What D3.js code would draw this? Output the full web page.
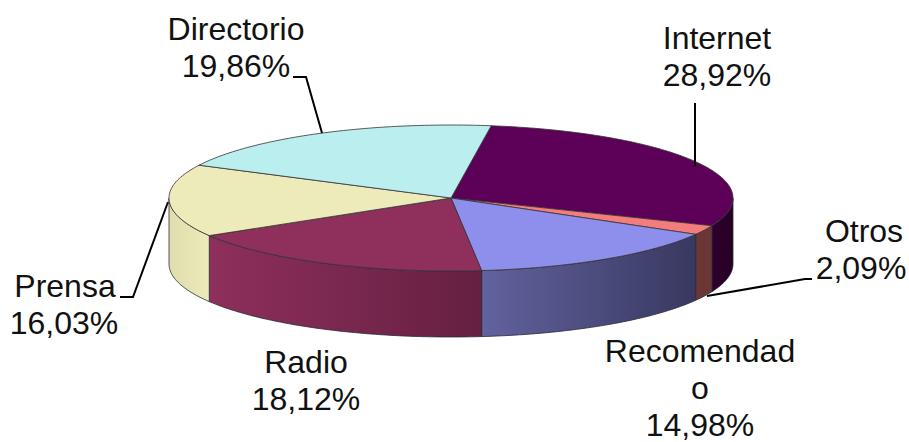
<!DOCTYPE html>
<html><head><meta charset="utf-8">
<script src="https://cdn.jsdelivr.net/npm/d3@7"></script>
<style>html,body{margin:0;background:#fff}svg{display:block}text{font-family:"Liberation Sans",Arial,sans-serif;font-size:32px;fill:#111;text-anchor:middle}</style>
</head><body><svg id="c" width="909" height="442"></svg>
<script>
const categories = ["Internet","Otros","Recomendado","Radio","Prensa","Directorio"];
const values = [28.92,2.09,14.98,18.12,16.03,19.86];
const topColors = ["#5c0058","#f47c7c","#8e8eec","#8e2f5c","#eeebbb","#bbeeee"];
const wallLeft  = ["#2e002c","#6c3636","#62629e","#8e2f5c","#e0ddac","#bbeeee"];
const wallRight = ["#260024","#6c3636","#383860","#652040","#eeebbb","#bbeeee"];
const labelLines = [["Internet"],["Otros"],["Recomendad","o"],["Radio"],["Prensa"],["Directorio"]];
const labelX = [717,864,700,306,65,236];
const labelY = [49,242,362,373,297,40];
const labelValueDx = [0,-3,0,0,-1,0];
const lineGap = 37;
const leaders = [
  [[695,103],[695,166]],
  [[812,279],[805,279],[707,296]],
  null,
  null,
  [[120,297],[133,297],[168,202]],
  [[293,77],[306,77],[322,133]]
];
const cx=451, cy=198, rx=282, ry=73, depth=66, startDeg=8.2;

const svg=d3.select("#c");
const defs=svg.append("defs");
const arcs=d3.pie().sort(null).value(d=>d)
  .startAngle(startDeg*Math.PI/180).endAngle((startDeg+360)*Math.PI/180)(values);
const px=d3.scaleLinear().domain([-1,1]).range([cx-rx,cx+rx]);
const py=d3.scaleLinear().domain([-1,1]).range([cy-ry,cy+ry]);
const P=(t,dy=0)=>[px(Math.sin(t)),py(-Math.cos(t))+dy];
const samples=(a,b,dy=0)=>{const n=Math.max(2,Math.ceil((b-a)/0.02));
  return d3.range(n+1).map(i=>P(a+(b-a)*i/n,dy));};
const line=d3.line();

// side walls
const W0=Math.PI/2, W1=3*Math.PI/2;
arcs.forEach((a,i)=>{
  const s=Math.max(a.startAngle,W0), e=Math.min(a.endAngle,W1);
  if(e<=s) return;
  const id="w"+i, x0=P(s)[0], x1=P(e)[0];
  const g=defs.append("linearGradient").attr("id",id).attr("gradientUnits","userSpaceOnUse")
    .attr("x1",Math.min(x0,x1)).attr("x2",Math.max(x0,x1)).attr("y1",0).attr("y2",0);
  g.append("stop").attr("offset",0).attr("stop-color",wallLeft[i]);
  g.append("stop").attr("offset",1).attr("stop-color",wallRight[i]);
  const pts=samples(s,e).concat(samples(s,e,depth).reverse());
  svg.append("path").attr("d",line(pts)+"Z").attr("fill",`url(#${id})`)
    .attr("stroke","#2a2a3a").attr("stroke-width",0.8).attr("stroke-linejoin","round");
});

// top faces
arcs.forEach((a,i)=>{
  const pts=[[cx,cy]].concat(samples(a.startAngle,a.endAngle));
  svg.append("path").attr("d",line(pts)+"Z").attr("fill",topColors[i])
    .attr("stroke","#333").attr("stroke-width",0.8).attr("stroke-linejoin","round");
});

// leader lines
leaders.forEach(l=>{ if(l) svg.append("path").attr("d",line(l)).attr("fill","none")
  .attr("stroke","#000").attr("stroke-width",2); });

// labels
categories.forEach((c,i)=>{
  const ls=labelLines[i];
  ls.forEach((t,j)=>svg.append("text").attr("x",labelX[i]).attr("y",labelY[i]+j*lineGap).text(t));
  svg.append("text").attr("x",labelX[i]+labelValueDx[i]).attr("y",labelY[i]+ls.length*lineGap)
    .text(values[i].toFixed(2).replace(".",",")+"%");
});
</script></body></html>
